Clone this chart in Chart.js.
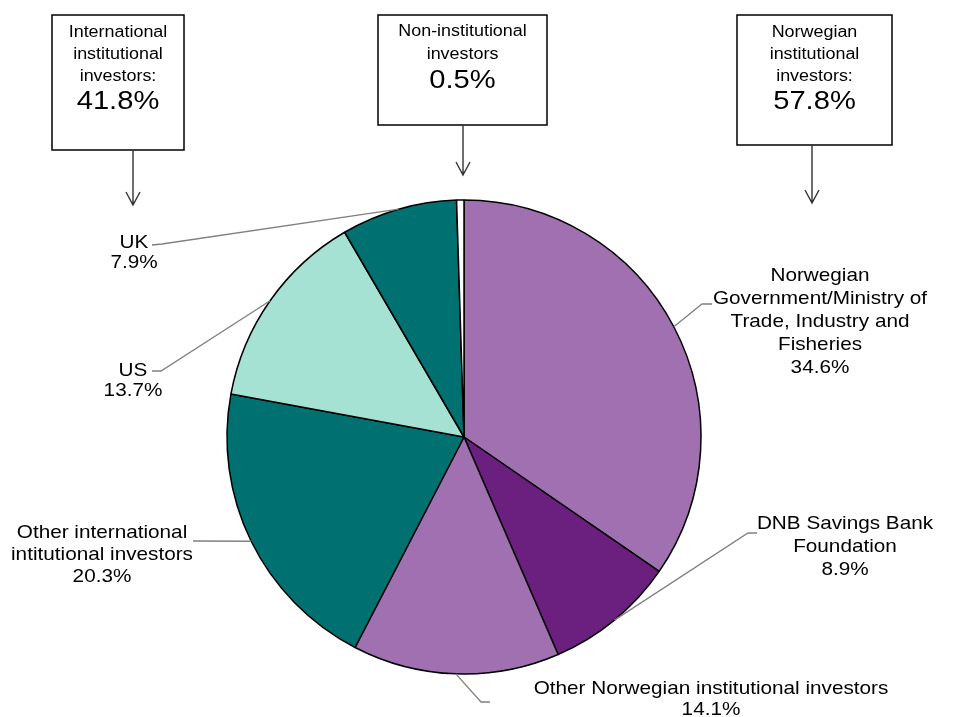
<!DOCTYPE html>
<html>
<head>
<meta charset="utf-8">
<script src="https://cdn.jsdelivr.net/npm/chart.js@4/dist/chart.umd.min.js"></script>
<style>
html,body{margin:0;padding:0;background:#fff;}
#wrap{width:965px;height:717px;position:relative;}
</style>
</head>
<body>
<div id="wrap"><canvas id="c" width="965" height="717"></canvas></div>
<script>
// ---- data ----
const categories = [
  'Norwegian Government/Ministry of Trade, Industry and Fisheries',
  'DNB Savings Bank Foundation',
  'Other Norwegian institutional investors',
  'Other international intitutional investors',
  'US',
  'UK',
  'Non-institutional investors'
];
const shares = [34.6, 8.9, 14.1, 20.3, 13.7, 7.9, 0.5];
const sliceLabelLines = [
  ['Norwegian', 'Government/Ministry of', 'Trade, Industry and', 'Fisheries'],
  ['DNB Savings Bank', 'Foundation'],
  ['Other Norwegian institutional investors'],
  ['Other international', 'intitutional investors'],
  ['US'],
  ['UK'],
  null
];
const groupLines = [
  ['International', 'institutional', 'investors:'],
  ['Non-institutional', 'investors'],
  ['Norwegian', 'institutional', 'investors:']
];
const groupShares = [41.8, 0.5, 57.8];

// ---- styles / layout ----
const sliceColors = ['#A070B0', '#6B2080', '#A070B0', '#007070', '#A6E2D4', '#007070', '#FFFFFF'];
const FONT = '"Liberation Sans", Arial, sans-serif';
const TEXT_STRETCH = 1.12;
// label layout: text centre x, first-line y, line height, leader elbow & end
const labelLayout = [
  {x: 820, y: 276, lh: 23, elbow: [702, 304], end: [712, 304]},
  {x: 845, y: 524, lh: 23, elbow: [748, 533], end: [757, 533]},
  {x: 711, y: 689, lh: 21, elbow: [481, 702], end: [490, 702]},
  {x: 102, y: 533, lh: 22, elbow: [197, 541], end: [193, 541]},
  {x: 133, y: 371, lh: 20, elbow: [161, 371], end: [152, 371]},
  {x: 134, y: 243, lh: 20, elbow: [162, 244], end: [152, 245]},
  null
];
const boxLayout = [
  {x0: 52, y0: 15, x1: 184, y1: 150, ys: [33, 55, 77], py: 102, ax: 133, ay: 205},
  {x0: 378, y0: 15, x1: 547, y1: 125, ys: [32, 55], py: 81, ax: 463, ay: 175},
  {x0: 737, y0: 15, x1: 892, y1: 145, ys: [33, 55, 77], py: 102, ax: 812, ay: 203}
];

function stretchedText(ctx, t, x, y) {
  ctx.save();
  ctx.translate(x, y);
  ctx.scale(TEXT_STRETCH, 1);
  ctx.fillText(t, 0, 0);
  ctx.restore();
}

const annotations = {
  id: 'annotations',
  afterDraw(chart) {
    const ctx = chart.ctx;
    const meta = chart.getDatasetMeta(0);
    ctx.save();
    // leader lines + slice labels
    meta.data.forEach((arc, i) => {
      const L = labelLayout[i];
      if (!L) return;
      const p = arc.getProps(['x', 'y', 'startAngle', 'endAngle', 'outerRadius'], true);
      const mid = (p.startAngle + p.endAngle) / 2;
      const ex = p.x + Math.cos(mid) * p.outerRadius;
      const ey = p.y + Math.sin(mid) * p.outerRadius;
      ctx.strokeStyle = '#808080';
      ctx.lineWidth = 1.3;
      ctx.beginPath();
      ctx.moveTo(ex, ey);
      ctx.lineTo(L.elbow[0], L.elbow[1]);
      ctx.lineTo(L.end[0], L.end[1]);
      ctx.stroke();
      const lines = sliceLabelLines[i].concat([shares[i].toFixed(1) + '%']);
      ctx.fillStyle = '#000';
      ctx.font = '18.5px ' + FONT;
      ctx.textAlign = 'center';
      ctx.textBaseline = 'middle';
      lines.forEach((t, k) => stretchedText(ctx, t, L.x, L.y + k * L.lh));
    });
    // group boxes with arrows
    boxLayout.forEach((B, g) => {
      ctx.strokeStyle = '#000';
      ctx.lineWidth = 1.5;
      ctx.strokeRect(B.x0, B.y0, B.x1 - B.x0, B.y1 - B.y0);
      const cx = (B.x0 + B.x1) / 2;
      ctx.fillStyle = '#000';
      ctx.textAlign = 'center';
      ctx.textBaseline = 'middle';
      ctx.font = '16px ' + FONT;
      groupLines[g].forEach((t, k) => stretchedText(ctx, t, cx, B.ys[k]));
      ctx.font = '26px ' + FONT;
      stretchedText(ctx, groupShares[g].toFixed(1) + '%', cx, B.py);
      ctx.strokeStyle = '#333';
      ctx.lineWidth = 1.4;
      ctx.beginPath();
      ctx.moveTo(B.ax, B.y1);
      ctx.lineTo(B.ax, B.ay);
      ctx.moveTo(B.ax - 7, B.ay - 13);
      ctx.lineTo(B.ax, B.ay);
      ctx.lineTo(B.ax + 7, B.ay - 13);
      ctx.stroke();
    });
    ctx.restore();
  }
};

new Chart(document.getElementById('c'), {
  type: 'pie',
  data: {
    labels: categories,
    datasets: [{
      data: shares,
      backgroundColor: sliceColors,
      borderColor: '#000',
      borderWidth: 1.5,
      hoverOffset: 0
    }]
  },
  options: {
    responsive: false,
    animation: false,
    radius: 237,
    layout: {padding: {left: 0, right: 37, top: 157, bottom: 0}},
    plugins: {legend: {display: false}, tooltip: {enabled: false}}
  },
  plugins: [annotations]
});
</script>
</body>
</html>
